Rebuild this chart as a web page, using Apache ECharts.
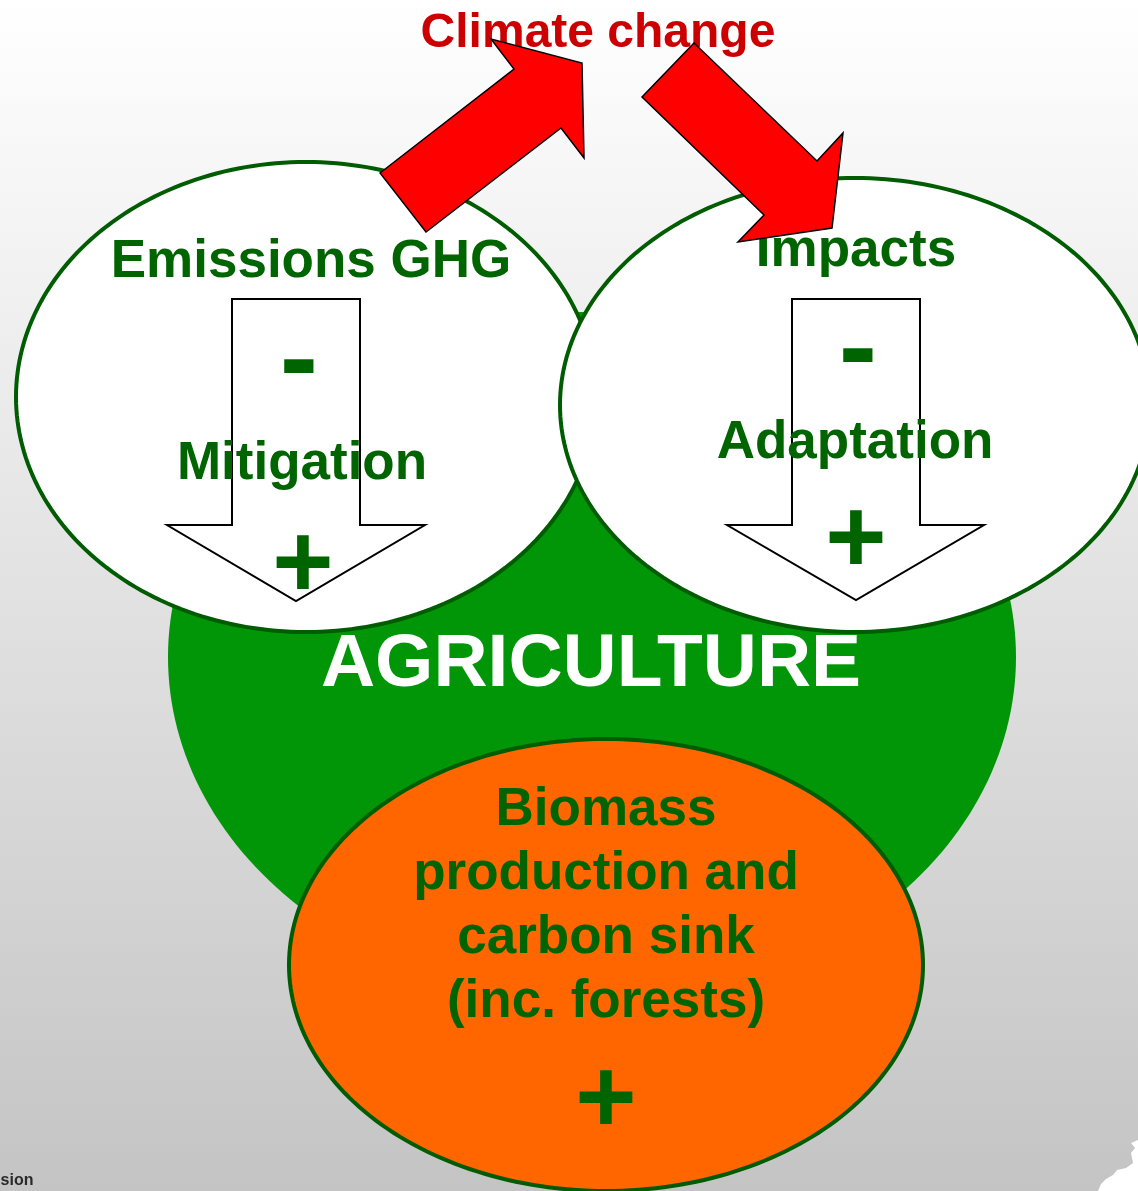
<!DOCTYPE html>
<html>
<head>
<meta charset="utf-8">
<script src="https://cdn.jsdelivr.net/npm/echarts@6/dist/echarts.min.js"></script>
<style>
html, body { margin: 0; padding: 0; }
#main { width: 1138px; height: 1191px; }
</style>
</head>
<body>
<div id="main"></div>
<script>
// everything is measured in picture pixels, y going down
var ellipseNames = ['AGRICULTURE', 'Emissions GHG', 'Impacts', 'Biomass'];
var ellipseX = [592, 306, 855, 606];
var ellipseY = [657, 397, 405, 965];
var ellipseRx = [424, 290, 295, 317];
var ellipseRy = [345, 235, 227, 226];

// red arrows round "Climate change"
var arrowUp = [[380, 173], [514, 69], [491, 39], [582, 63], [584, 158], [561, 128], [426, 232]];
var arrowDown = [[694, 43], [817, 161], [843, 133], [832, 228], [738, 242], [764, 215], [642, 97]];

// white block arrows inside the two upper ellipses
var blockLeft = [[232, 299], [360, 299], [360, 525], [425, 525], [296, 601], [167, 525], [232, 525]];
var blockRight = [[792, 299], [920, 299], [920, 525], [984, 525], [856, 600], [727, 525], [792, 525]];

// white scrap in the bottom right corner
var cornerPatch = [[1098, 1191], [1101, 1184], [1106, 1179], [1113, 1175], [1117, 1170], [1126, 1168], [1133, 1163], [1131, 1153], [1135, 1148], [1131, 1143], [1138, 1140], [1138, 1191]];

var labelText = ['Climate change', 'Emissions GHG', '-', 'Mitigation', '+', 'Impacts', '-', 'Adaptation', '+',
  'AGRICULTURE', 'Biomass', 'production and', 'carbon sink', '(inc. forests)', '+', 'sion'];
var labelX = [598, 311, 299, 302, 303, 856, 858, 855, 856, 591, 606, 606, 606, 606, 606, 17];
var labelBase = [47, 277, 396, 479, 597, 266, 385, 458, 572, 686, 825, 889, 953, 1017, 1132, 1185];
var labelSize = [48, 53, 115, 53, 105, 53, 115, 53, 105, 75, 53, 53, 53, 53, 105, 16];

var ellipseFill = ['#009608', '#ffffff', '#ffffff', '#ff6600'];
var ellipseStroke = [null, '#005c00', '#005c00', '#005c00'];
var labelColor = ['#cc0000', '#006400', '#006400', '#006400', '#006400', '#006400', '#006400', '#006400', '#006400',
  '#ffffff', '#006400', '#006400', '#006400', '#006400', '#006400', '#2a2a2a'];

var myChart = echarts.init(document.getElementById('main'));

function toPixels(api, pts) {
  return pts.map(function (p) { return api.coord(p); });
}

var option = {
  animation: false,
  backgroundColor: new echarts.graphic.LinearGradient(0, 0, 0, 1, [
    { offset: 0, color: '#ffffff' },
    { offset: 0.1, color: '#f9f9f9' },
    { offset: 1, color: '#c4c4c4' }
  ]),
  grid: { left: 0, right: 0, top: 0, bottom: 0 },
  xAxis: { type: 'value', min: 0, max: 1138, show: false },
  yAxis: { type: 'value', min: 0, max: 1191, inverse: true, show: false },
  series: [
    {
      // the four ellipses
      type: 'custom',
      z: 1,
      silent: true,
      encode: { x: 0, y: 1 },
      data: ellipseNames.map(function (n, i) {
        return [ellipseX[i], ellipseY[i], ellipseRx[i], ellipseRy[i]];
      }),
      renderItem: function (params, api) {
        var c = api.coord([api.value(0), api.value(1)]);
        var s = api.size([api.value(2), api.value(3)]);
        var pts = [];
        for (var k = 0; k < 240; k++) {
          var t = k / 240 * Math.PI * 2;
          pts.push([c[0] + s[0] * Math.cos(t), c[1] + s[1] * Math.sin(t)]);
        }
        var i = params.dataIndex;
        return {
          type: 'polygon',
          shape: { points: pts },
          style: {
            fill: ellipseFill[i],
            stroke: ellipseStroke[i],
            lineWidth: ellipseStroke[i] ? 4 : 0
          }
        };
      }
    },
    {
      // block arrows
      type: 'custom',
      z: 2,
      silent: true,
      data: [0, 1],
      renderItem: function (params, api) {
        var pts = params.dataIndex === 0 ? blockLeft : blockRight;
        return {
          type: 'polygon',
          shape: { points: toPixels(api, pts) },
          style: { fill: '#ffffff', stroke: '#000000', lineWidth: 2, lineJoin: 'miter' }
        };
      }
    },
    {
      // all texts
      type: 'custom',
      z: 3,
      silent: true,
      encode: { x: 0, y: 1 },
      data: labelText.map(function (t, i) { return [labelX[i], labelBase[i]]; }),
      renderItem: function (params, api) {
        var i = params.dataIndex;
        var p = api.coord([api.value(0), api.value(1)]);
        var size = labelSize[i];
        return {
          type: 'text',
          x: p[0],
          y: p[1] - size * 0.276,
          style: {
            text: labelText[i],
            fill: labelColor[i],
            fontSize: size,
            fontWeight: 'bold',
            fontFamily: '"Liberation Sans", Arial, sans-serif',
            align: 'center',
            verticalAlign: 'middle'
          }
        };
      }
    },
    {
      // red arrows and corner scrap
      type: 'custom',
      z: 4,
      silent: true,
      data: [0, 1, 2],
      renderItem: function (params, api) {
        var i = params.dataIndex;
        if (i === 2) {
          return {
            type: 'polygon',
            shape: { points: toPixels(api, cornerPatch) },
            style: { fill: '#ffffff' }
          };
        }
        return {
          type: 'polygon',
          shape: { points: toPixels(api, i === 0 ? arrowUp : arrowDown) },
          style: { fill: '#ff0000', stroke: '#000000', lineWidth: 1.5, lineJoin: 'miter' }
        };
      }
    }
  ]
};
myChart.setOption(option);
</script>
</body>
</html>
